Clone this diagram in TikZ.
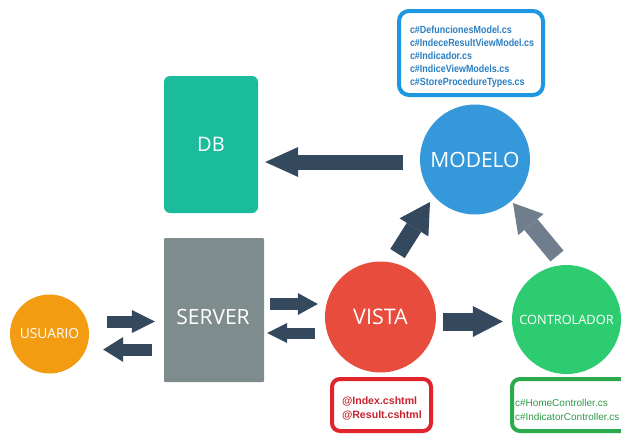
\documentclass[tikz,border=0pt]{standalone}
\usepackage{fontspec}
\setmainfont{Open Sans}
\newfontfamily\filefont{Liberation Sans}
\usetikzlibrary{arrows.meta,calc}

\definecolor{dbteal}{HTML}{1ABC9C}
\definecolor{srvgray}{HTML}{7F8C8D}
\definecolor{userorange}{HTML}{F39C12}
\definecolor{vistared}{HTML}{E74C3C}
\definecolor{ctrlgreen}{HTML}{2ECC71}
\definecolor{modblue}{HTML}{3498DB}
\definecolor{arrowdark}{HTML}{34495E}
\definecolor{arrowslate}{HTML}{6F7D8C}
\definecolor{blueframe}{HTML}{1C97E0}
\definecolor{bluetext}{HTML}{2B7FC3}
\definecolor{redframe}{HTML}{E1232B}
\definecolor{redtext}{HTML}{C8232C}
\definecolor{greenframe}{HTML}{2EAA4E}
\definecolor{greentext}{HTML}{2E9A48}

% horizontally condensed file name
\newcommand\condline[1]{\scalebox{0.86}[1]{#1}}

\tikzset{
  block/.style={rectangle, draw=none, text=white, inner sep=0pt},
  bubble/.style={circle, draw=none, text=white, inner sep=0pt},
  filebox/.style={rectangle, line width=4pt, inner sep=0pt},
  filelist/.style={align=left, inner sep=0pt},
  fat/.style n args={3}{line width=#1pt, arrowdark,
    -{Triangle[length=#2pt, width=#3pt, line width=0pt]}},
}

\begin{document}
\begin{tikzpicture}[x=1pt, y=-1pt]
  \useasboundingbox (0,0) rectangle (621,434);
  \fill[white] (0,0) rectangle (621,434);

  % layers and components
  \node[block, fill=dbteal, rounded corners=6pt, minimum width=94pt, minimum height=137pt,
        font=\fontsize{20}{24}\selectfont] (db) at (211,144.5) {DB};
  \node[block, fill=srvgray, rounded corners=1pt, minimum width=100pt, minimum height=144pt]
        (server) at (214,310) {};
  \node[text=white, inner sep=0pt, font=\fontsize{21}{25}\selectfont] (servertext) at (213,317) {SERVER};
  \node[bubble, fill=userorange, minimum size=79pt, font=\fontsize{13.8}{16}\selectfont]
        (usuario) at (49.5,334) {USUARIO};
  \node[bubble, fill=vistared, minimum size=111pt, font=\fontsize{21.5}{25}\selectfont]
        (vista) at (380.5,317) {VISTA};
  \node[bubble, fill=ctrlgreen, minimum size=109pt, font=\fontsize{12.8}{15}\selectfont]
        (controlador) at (566.5,319.5) {CONTROLADOR};
  \node[bubble, fill=modblue, minimum size=110pt, font=\fontsize{21}{25}\selectfont]
        (modelo) at (475,159.5) {MODELO};

  % source files of each part
  \node[filebox, draw=blueframe, rounded corners=10pt,
        minimum width=144pt, minimum height=84pt] (modelfiles) at (471,53) {};
  \node[filelist, text=bluetext, text width=124pt,
        font=\filefont\bfseries\fontsize{10.4}{13}\selectfont] (modellist) at (472,56.5)
        {\condline{c\#DefuncionesModel.cs}\\
         \condline{c\#IndeceResultViewModel.cs}\\
         \condline{c\#Indicador.cs}\\
         \condline{c\#IndiceViewModels.cs}\\
         \condline{c\#StoreProcedureTypes.cs}};

  \node[filebox, draw=redframe, rounded corners=8pt,
        minimum width=99pt, minimum height=52pt] (vistafiles) at (381.5,405) {};
  \node[filelist, text=redtext, text width=81pt,
        font=\filefont\bfseries\fontsize{10.6}{14}\selectfont] (vistalist) at (382.5,408.5)
        {@Index.cshtml\\@Result.cshtml};

  \node[filebox, draw=greenframe, rounded corners=8pt, anchor=west,
        minimum width=122pt, minimum height=52pt] (ctrlfiles) at (510,405) {};
  \node[filelist, text=greentext, text width=112pt,
        font=\filefont\fontsize{10}{14}\selectfont] (ctrllist) at (571,410)
        {c\#HomeController.cs\\c\#IndicatorController.cs};

  % data flow
  \draw[fat={15}{33}{30}] ($(modelo.west)+(-17,2.5)$) -- ($(db.east)+(7,17.5)$);
  \draw[fat={12}{23}{23}] ($(usuario.east)+(18,-12.5)$) -- ($(server.west)+(-9,11.5)$);
  \draw[fat={12}{20}{25}] ($(server.west)+(-12,39.5)$) -- ($(usuario.east)+(14,15.5)$);
  \draw[fat={12}{20}{22}] ($(server.east)+(6,-6)$) -- ($(vista.west)+(-7,-13)$);
  \draw[fat={11}{20}{20}] ($(vista.west)+(-10,16)$) -- ($(server.east)+(3,23)$);
  \draw[fat={18}{30}{31}] ($(vista.east)+(7,4.5)$) -- ($(controlador.west)+(-9,2)$);
  \draw[fat={17}{30}{34}] ($(vista)+(17,-63.5)$) -- ($(modelo)+(-45,42.5)$);
  \draw[fat={17}{28}{33}, draw=arrowslate, fill=arrowslate]
        ($(controlador)+(-9.5,-63.5)$) -- ($(modelo)+(38,43.5)$);
\end{tikzpicture}
\end{document}
